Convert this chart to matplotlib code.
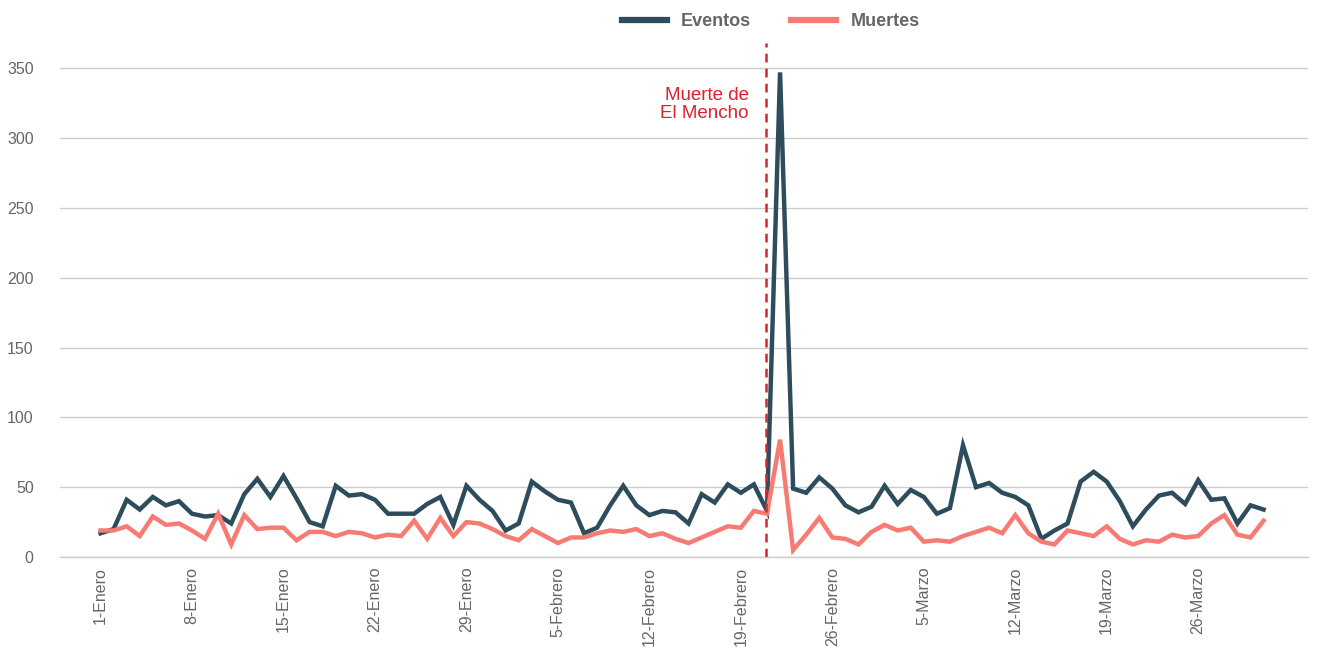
import matplotlib
matplotlib.use("Agg")
import matplotlib.pyplot as plt
import numpy as np

plt.rcParams['font.family'] = ['Liberation Sans', 'DejaVu Sans']

# daily values, 1 Jan .. 31 Mar
eventos = [17, 20, 41, 34, 43, 37, 40, 31, 29, 30,
           24, 45, 56, 43, 58, 42, 25, 22, 51, 44,
           45, 41, 31, 31, 31, 38, 43, 23, 51, 41,
           33, 19, 24, 54, 47, 41, 39, 17, 21, 37,
           51, 37, 30, 33, 32, 24, 45, 39, 52, 46,
           52, 33, 347, 49, 46, 57, 49, 37, 32, 36,
           51, 38, 48, 43, 31, 35, 80, 50, 53, 46,
           43, 37, 13, 19, 24, 54, 61, 54, 40, 22,
           34, 44, 46, 38, 55, 41, 42, 24, 37, 34]
muertes = [19, 19, 22, 15, 29, 23, 24, 19, 13, 31,
           9, 30, 20, 21, 21, 12, 18, 18, 15, 18,
           17, 14, 16, 15, 26, 13, 28, 15, 25, 24,
           20, 15, 12, 20, 15, 10, 14, 14, 17, 19,
           18, 20, 15, 17, 13, 10, 14, 18, 22, 21,
           33, 31, 84, 5, 16, 28, 14, 13, 9, 18,
           23, 19, 21, 11, 12, 11, 15, 18, 21, 17,
           30, 17, 11, 9, 19, 17, 15, 22, 13, 9,
           12, 11, 16, 14, 15, 24, 30, 16, 14, 26]
tick_idx = [0, 7, 14, 21, 28, 35, 42, 49, 56, 63, 70, 77, 84]
tick_labels = ['1-Enero', '8-Enero', '15-Enero', '22-Enero', '29-Enero',
               '5-Febrero', '12-Febrero', '19-Febrero', '26-Febrero',
               '5-Marzo', '12-Marzo', '19-Marzo', '26-Marzo']
evento_dia = 51  # Muerte de El Mencho

x = np.arange(len(eventos))

fig = plt.figure(figsize=(13.22, 6.48), dpi=100)
ax = fig.add_axes([0.0454, 0.1404, 0.944, 0.7932])

ax.plot(x, eventos, color='#2d4d5c', lw=3.2, label='Eventos', solid_joinstyle='miter')
ax.plot(x, muertes, color='#f77b72', lw=3.2, label='Muertes', solid_joinstyle='miter')

ax.axvline(evento_dia - 0.05, color='#e0202e', lw=1.8, linestyle=(0, (3.5, 2.5)))
ax.text(evento_dia - 1.4, 324, 'Muerte de\nEl Mencho', color='#e0202e',
        fontsize=13.5, ha='right', va='center', linespacing=1.1)

ax.set_xlim(-3.1, 92.4)
ax.set_ylim(0, 368)
ax.set_yticks(range(0, 351, 50))
ax.set_xticks(tick_idx)
ax.set_xticklabels(tick_labels, rotation=90, va='top', ha='center')
ax.tick_params(axis='both', length=0, labelsize=11.5, colors='#666666')
ax.tick_params(axis='y', pad=19)
ax.tick_params(axis='x', pad=7)
ax.grid(axis='y', color='#cccccc', lw=1)
ax.axhline(0, color='#cccccc', lw=1, clip_on=False, zorder=0)
ax.set_axisbelow(True)
for s in ax.spines.values():
    s.set_visible(False)

leg = fig.legend(loc='upper center', bbox_to_anchor=(0.583, 1.005), ncol=2,
                 frameon=False, handlelength=2.5, columnspacing=2.2,
                 prop={'weight': 'bold', 'size': 13})
for t in leg.get_texts():
    t.set_color('#666666')
for h in leg.get_lines():
    h.set_linewidth(4.5)

fig.savefig('out.png', dpi=100)
